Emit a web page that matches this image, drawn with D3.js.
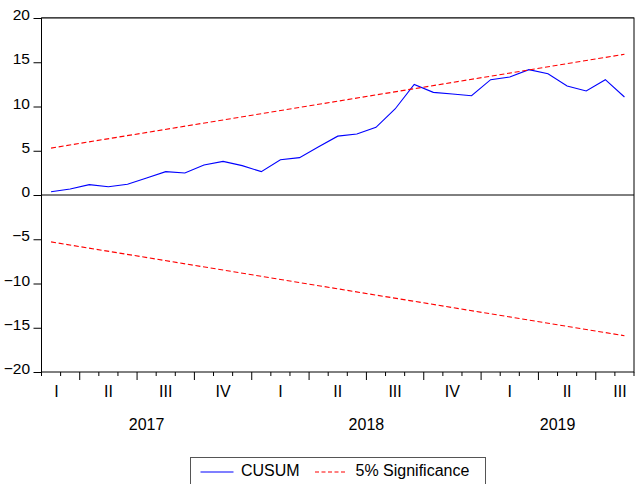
<!DOCTYPE html>
<html><head><meta charset="utf-8">
<script src="https://cdn.jsdelivr.net/npm/d3@7"></script>
<style>
html,body{margin:0;padding:0;background:#fff;}
svg{display:block;font-family:"Liberation Sans",Arial,sans-serif;}
</style></head>
<body>
<svg id="chart" width="635" height="484"></svg>
<script>
// ---- data ----
const months = ["2017-02","2017-03","2017-04","2017-05","2017-06","2017-07","2017-08","2017-09","2017-10","2017-11","2017-12",
  "2018-01","2018-02","2018-03","2018-04","2018-05","2018-06","2018-07","2018-08","2018-09","2018-10","2018-11","2018-12",
  "2019-01","2019-02","2019-03","2019-04","2019-05","2019-06","2019-07","2019-08"];
const cusum = [0.37,0.68,1.17,0.94,1.21,1.92,2.64,2.49,3.39,3.80,3.32,2.64,3.99,4.22,5.45,6.65,
  6.89,7.65,9.72,12.5,11.6,11.41,11.22,13.03,13.33,14.16,13.71,12.32,11.75,13.03,11.07];
const sigUpper = [5.3, 15.9];   // at first and last observation
const sigLower = [-5.3, -15.9];
const yTicks = [-20,-15,-10,-5,0,5,10,15,20];
const quarterNames = ["I","II","III","IV"];
const years = [2017, 2018, 2019];
const legendItems = ["CUSUM", "5% Significance"];

// ---- layout ----
const svg = d3.select("#chart");
const L = 41.5, R = 634, T = 18, B = 372;
const n = months.length;
const x = d3.scaleLinear().domain([0, n]).range([L, R]);
const y = d3.scaleLinear().domain([-20, 20]).range([B, T]);
const font = 16;

const monthOf = s => +s.slice(5,7);
const yearOf = s => +s.slice(0,4);

// frame
svg.append("rect").attr("x", L).attr("y", T).attr("width", R - L).attr("height", B - T)
  .attr("fill", "none").attr("stroke", "#000").attr("stroke-width", 1);
svg.append("line").attr("x1", L).attr("x2", R).attr("y1", T - 0.5).attr("y2", T - 0.5)
  .attr("stroke", "#444").attr("stroke-width", 1.2);
// zero line
svg.append("line").attr("x1", L).attr("x2", R).attr("y1", y(0)).attr("y2", y(0))
  .attr("stroke", "#000").attr("stroke-width", 1);

// y axis
const yAxis = d3.axisLeft(y).tickValues(yTicks).tickSize(8).tickPadding(3).tickFormat(d3.format("d"));
const gy = svg.append("g").attr("transform", `translate(${L},0)`).call(yAxis);
gy.select(".domain").remove();
gy.selectAll("text").attr("font-size", font - 0.5).attr("font-family", "Liberation Sans, Arial, sans-serif")
  .attr("fill", "#000").attr("dy", "0.1em").attr("x", -11.5);
gy.selectAll("line").attr("stroke", "#000");

// x ticks at month boundaries
const boundaries = d3.range(0, n + 1);
const startMonth = monthOf(months[0]);
const isQuarterStart = k => ((startMonth - 1 + k) % 3) === 0;
svg.append("g").selectAll("line").data(boundaries).join("line")
  .attr("x1", d => x(d)).attr("x2", d => x(d))
  .attr("y1", B).attr("y2", d => B + (isQuarterStart(d) ? 8 : 4))
  .attr("stroke", "#000").attr("stroke-width", 1);

// quarter labels
const quarters = [];
months.forEach((m, i) => {
  const q = Math.floor((monthOf(m) - 1) / 3);
  const key = yearOf(m) + "-" + q;
  let last = quarters[quarters.length - 1];
  if (!last || last.key !== key) {
    const posInQ = (monthOf(m) - 1) % 3;
    last = {key, q, fullStart: i - posInQ, s: i, e: i + 1};
    quarters.push(last);
  } else last.e = i + 1;
});
svg.append("g").selectAll("text").data(quarters).join("text")
  .attr("x", d => {
    const c = x(d.fullStart + 1.5);
    return Math.max(x(d.s) + 15, Math.min(x(d.e) - 14, c));
  })
  .attr("y", 397).attr("text-anchor", "middle").attr("font-size", font).attr("fill", "#000")
  .text(d => quarterNames[d.q]);

// year labels
svg.append("g").selectAll("text").data(years).join("text")
  .attr("x", yr => {
    const idx = months.map((m, i) => yearOf(m) === yr ? i : null).filter(v => v !== null);
    return x((idx[0] + idx[idx.length - 1] + 1) / 2);
  })
  .attr("y", 429.5).attr("text-anchor", "middle").attr("font-size", font).attr("fill", "#000")
  .text(d => d);

// lines
const px = i => x(i + 0.5);
const line = d3.line().x((d, i) => px(i)).y(d => y(d));
svg.append("path").datum(cusum).attr("d", line)
  .attr("fill", "none").attr("stroke", "#0000ff").attr("stroke-width", 1.1);

const sigLine = d3.line().x((d, i) => i === 0 ? px(0) : px(n - 1)).y(d => y(d));
[sigUpper, sigLower].forEach(s => {
  svg.append("path").datum(s).attr("d", sigLine)
    .attr("fill", "none").attr("stroke", "#ff0000").attr("stroke-width", 1.1)
    .attr("stroke-dasharray", "5,2.7");
});

// legend
svg.append("rect").attr("x", 190.5).attr("y", 457.5).attr("width", 295).attr("height", 40)
  .attr("fill", "#fff").attr("stroke", "#555").attr("stroke-width", 1);
svg.append("line").attr("x1", 200.5).attr("x2", 233.5).attr("y1", 472).attr("y2", 472)
  .attr("stroke", "#0000ff").attr("stroke-width", 1.1);
svg.append("text").attr("x", 241).attr("y", 475.5).attr("font-size", font).attr("fill", "#000").text(legendItems[0]);
svg.append("line").attr("x1", 315).attr("x2", 347).attr("y1", 472).attr("y2", 472)
  .attr("stroke", "#ff0000").attr("stroke-width", 1.1).attr("stroke-dasharray", "4,2.5");
svg.append("text").attr("x", 355.5).attr("y", 475.5).attr("font-size", font).attr("fill", "#000").text(legendItems[1]);
</script>
</body></html>
